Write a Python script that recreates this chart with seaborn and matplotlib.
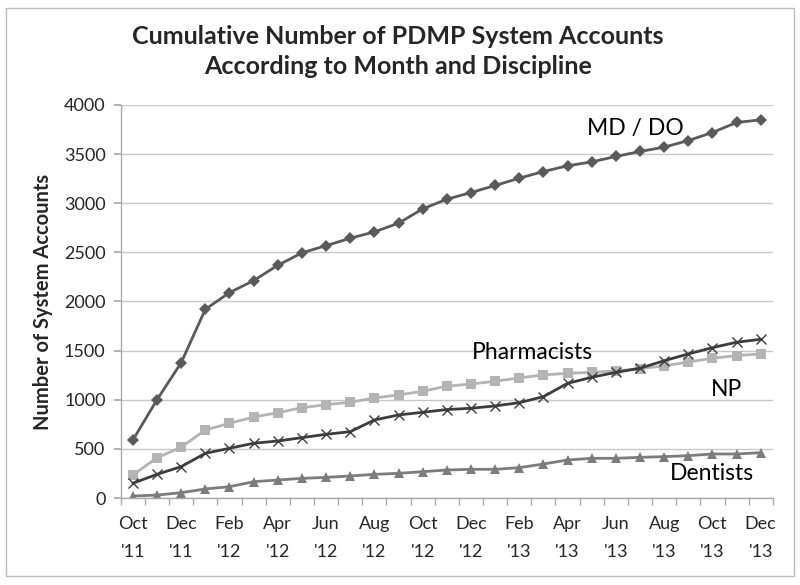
import matplotlib
matplotlib.use("Agg")
import matplotlib.pyplot as plt
import seaborn as sns
import pandas as pd
from matplotlib.patches import Rectangle

months = ["Oct", "Nov", "Dec", "Jan", "Feb", "Mar", "Apr", "May", "Jun", "Jul", "Aug", "Sep",
          "Oct", "Nov", "Dec", "Jan", "Feb", "Mar", "Apr", "May", "Jun", "Jul", "Aug", "Sep",
          "Oct", "Nov", "Dec"]
years = ["'11"] * 3 + ["'12"] * 12 + ["'13"] * 12

md_do = [590, 1000, 1377, 1920, 2090, 2212, 2368, 2494, 2568, 2643, 2708, 2796, 2942, 3040,
         3108, 3180, 3254, 3322, 3380, 3420, 3475, 3526, 3570, 3637, 3719, 3821, 3848]
pharmacists = [234, 410, 516, 692, 760, 824, 868, 919, 950, 974, 1018, 1049, 1086, 1138,
               1160, 1188, 1222, 1252, 1269, 1279, 1293, 1316, 1344, 1384, 1422, 1449, 1466]
np_ = [150, 241, 319, 455, 506, 557, 580, 614, 648, 675, 794, 845, 872, 900,
       913, 937, 970, 1031, 1167, 1228, 1279, 1320, 1397, 1466, 1530, 1585, 1615]
dentists = [20, 30, 54, 92, 115, 166, 183, 200, 210, 224, 241, 251, 268, 285,
            292, 292, 309, 346, 387, 404, 404, 414, 421, 431, 448, 448, 461]

series = {"MD / DO": md_do, "Pharmacists": pharmacists, "NP": np_, "Dentists": dentists}
styles = {
    "MD / DO": dict(color="#5a5a5a", marker="D", markersize=6),
    "Pharmacists": dict(color="#b4b4b4", marker="s", markersize=7),
    "NP": dict(color="#3c3c3c", marker="x", markersize=7, markeredgewidth=1.0),
    "Dentists": dict(color="#7c7c7c", marker="^", markersize=7),
}
label_pos = {"MD / DO": (20.8, 3760), "Pharmacists": (16.55, 1480), "NP": (24.6, 1100), "Dentists": (24.0, 245)}

rows = []
for name, vals in series.items():
    for i, v in enumerate(vals):
        rows.append({"idx": i, "value": v, "group": name})
df = pd.DataFrame(rows)

sns.set_theme(style="white")
plt.rcParams["font.family"] = ["Lato", "DejaVu Sans"]

fig = plt.figure(figsize=(8, 5.85), dpi=100)
ax = fig.add_axes([0.151, 0.1487, 0.815, 0.672])

for name in series:
    sub = df[df["group"] == name]
    st = styles[name]
    sns.lineplot(data=sub, x="idx", y="value", ax=ax, color=st["color"], linewidth=2,
                 marker=st["marker"], markersize=st["markersize"],
                 markeredgewidth=st.get("markeredgewidth", 0), markeredgecolor=st["color"])
    tx, ty = label_pos[name]
    ax.text(tx, ty, name, fontsize=16.5, ha="center", va="center", color="black")

ax.set_xlim(-0.5, len(months) - 0.5)
ax.set_ylim(0, 4000)
ax.set_yticks(range(0, 4001, 500))
ax.yaxis.grid(True, color="#c8c8c8", linewidth=1)
ax.tick_params(axis="y", labelsize=13, length=5, color="#aaaaaa", pad=6)
ax.tick_params(axis="y", left=True)

ax.set_xticks(range(0, len(months), 2))
ax.set_xticklabels([f"{months[i]}\n{years[i]}" for i in range(0, len(months), 2)], linespacing=1.9)
ax.tick_params(axis="x", labelsize=13, length=0, pad=13)
ax.set_xticks([i - 0.5 for i in range(len(months) + 1)], minor=True)
ax.tick_params(axis="x", which="minor", bottom=True, length=5, color="#aaaaaa")

ax.set_xlabel("")
ax.set_ylabel("Number of System Accounts", fontsize=14.5, fontweight="bold", labelpad=8)

for side in ["top", "right"]:
    ax.spines[side].set_visible(False)
for side in ["left", "bottom"]:
    ax.spines[side].set_color("#aaaaaa")
    ax.spines[side].set_linewidth(1)

fig.text(0.497, 0.912, "Cumulative Number of PDMP System Accounts\nAccording to Month and Discipline",
         ha="center", va="center", fontsize=18, fontweight="bold", linespacing=1.4)

fig.patches.append(Rectangle((0.007, 0.015), 0.985, 0.972, transform=fig.transFigure,
                             fill=False, edgecolor="#bbbbbb", linewidth=1))

fig.savefig("out.png", dpi=100)
